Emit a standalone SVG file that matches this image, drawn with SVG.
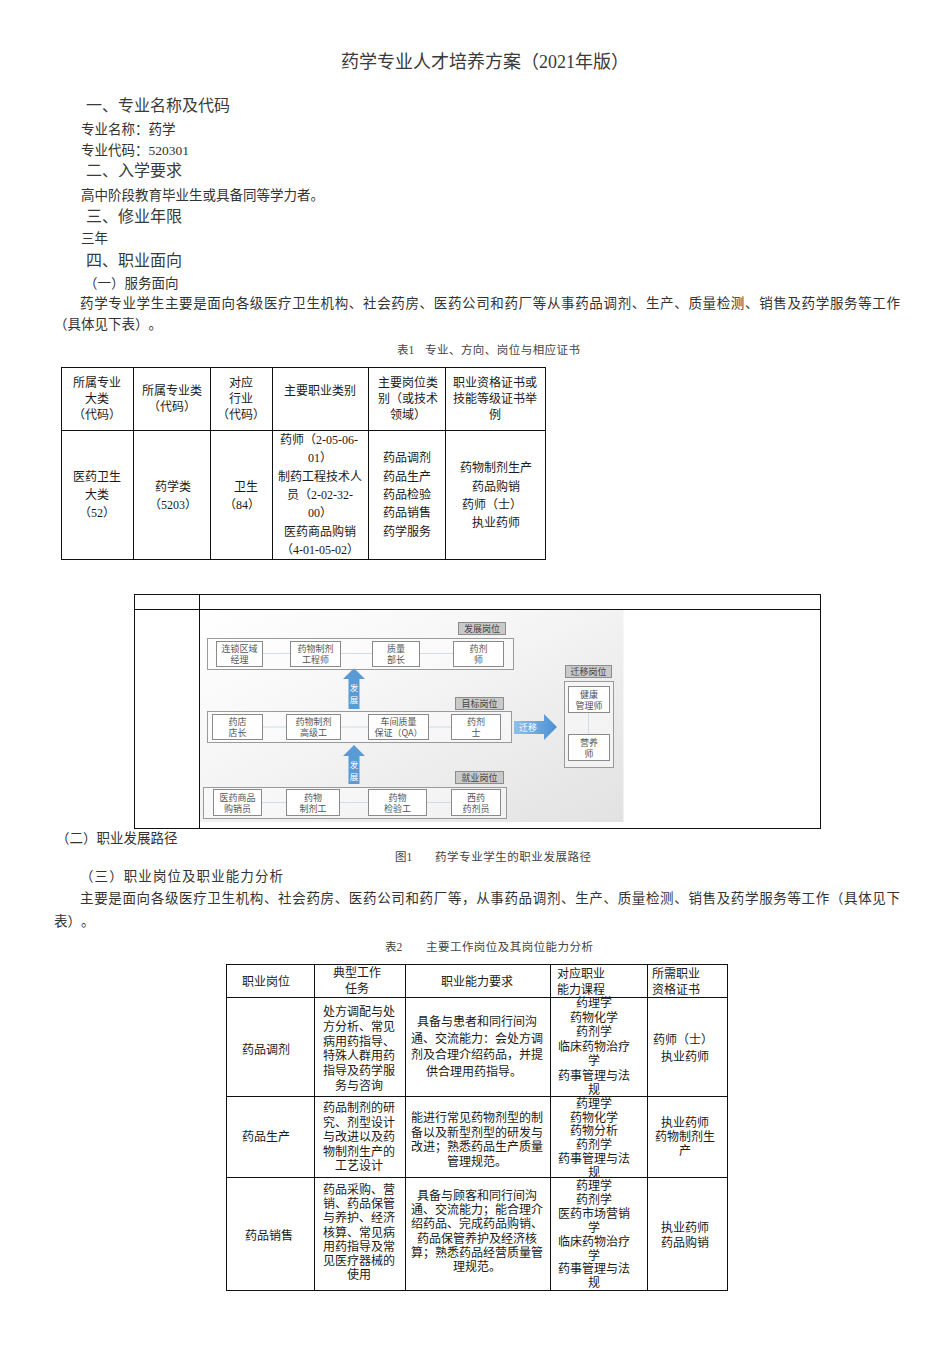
<svg xmlns="http://www.w3.org/2000/svg" width="951" height="1347" viewBox="0 0 951 1347">
<style>
.t{font-family:"Liberation Serif","Noto Sans CJK SC",serif;fill:#2a2a2a;dominant-baseline:central;text-spacing-trim:space-all}
.title{font-size:18px;fill:#3a3a3a}
.h{font-size:16px;fill:#3a3a3a}
.b{font-size:13.5px;fill:#333}
.cap{font-size:11.5px;fill:#444}
.tb{font-size:12px;fill:#1a1a1a}
.c{text-anchor:middle}
.ln{stroke:#111;stroke-width:1;fill:none;shape-rendering:crispEdges}
.f{font-family:"Noto Sans CJK SC","Liberation Sans",sans-serif;font-size:9px;fill:#555;dominant-baseline:central;text-anchor:middle;text-spacing-trim:space-all}
.fw{font-family:"Noto Sans CJK SC","Liberation Sans",sans-serif;font-size:8.5px;fill:#fff;dominant-baseline:central;text-anchor:middle}
.box{fill:#fff;stroke:#8a8a8a;stroke-width:1}
.cont{fill:#fff;fill-opacity:0.45;stroke:#9a9a9a;stroke-width:1}
.lab{fill:#c9c9c9;stroke:#8c8c8c;stroke-width:1}
.con{stroke:#aebfce;stroke-width:1;fill:none}
.arr{fill:#5b9bd5}
</style>
<defs>
<linearGradient id="bg" x1="0" y1="0" x2="1" y2="1">
<stop offset="0" stop-color="#ffffff"/>
<stop offset="0.35" stop-color="#f7f7f7"/>
<stop offset="1" stop-color="#e2e2e2"/>
</linearGradient>
<linearGradient id="ag" x1="0" y1="0" x2="1" y2="0">
<stop offset="0" stop-color="#8fc0ea"/>
<stop offset="1" stop-color="#4a8fd4"/>
</linearGradient>
</defs>
<rect width="951" height="1347" fill="#fff"/>

<g id="header-text">
<text class="t title c" x="485" y="62">药学专业人才培养方案（2021年版）</text>
<text class="t h" x="86" y="105">一、专业名称及代码</text>
<text class="t b" x="81" y="129">专业名称：药学</text>
<text class="t b" x="81" y="150">专业代码：520301</text>
<text class="t h" x="86" y="170">二、入学要求</text>
<text class="t b" x="81" y="195">高中阶段教育毕业生或具备同等学力者。</text>
<text class="t h" x="86" y="216">三、修业年限</text>
<text class="t b" x="81" y="238">三年</text>
<text class="t h" x="86" y="260">四、职业面向</text>
<text class="t b" x="84" y="283">（一）服务面向</text>
<text class="t b" x="80" y="303" textLength="820" lengthAdjust="spacing">药学专业学生主要是面向各级医疗卫生机构、社会药房、医药公司和药厂等从事药品调剂、生产、质量检测、销售及药学服务等工作</text>
<text class="t b" x="54" y="324">（具体见下表）。</text>
<text class="t cap" x="397" y="350">表1</text>
<text class="t cap" x="425" y="350" textLength="155" lengthAdjust="spacing">专业、方向、岗位与相应证书</text>
</g>

<g id="table1">
<rect class="ln" x="61.5" y="367.5" width="484" height="192"/>
<path class="ln" d="M61.5 430.5H545.5M133.5 367.5V559.5M210.5 367.5V559.5M272.5 367.5V559.5M368.5 367.5V559.5M445.5 367.5V559.5"/>
<text class="t tb c" x="97" y="383">所属专业</text>
<text class="t tb c" x="97" y="399">大类</text>
<text class="t tb c" x="97" y="415">（代码）</text>
<text class="t tb c" x="172" y="391">所属专业类</text>
<text class="t tb c" x="172" y="407">（代码）</text>
<text class="t tb c" x="241" y="383">对应</text>
<text class="t tb c" x="241" y="399">行业</text>
<text class="t tb c" x="241" y="415">（代码）</text>
<text class="t tb c" x="320" y="391">主要职业类别</text>
<text class="t tb c" x="408" y="383">主要岗位类</text>
<text class="t tb c" x="408" y="399">别（或技术</text>
<text class="t tb c" x="408" y="415">领域）</text>
<text class="t tb c" x="495" y="383">职业资格证书或</text>
<text class="t tb c" x="495" y="399">技能等级证书举</text>
<text class="t tb c" x="495" y="415">例</text>
<text class="t tb c" x="97" y="477">医药卫生</text>
<text class="t tb c" x="97" y="495">大类</text>
<text class="t tb c" x="97" y="513">（52）</text>
<text class="t tb c" x="173" y="487">药学类</text>
<text class="t tb c" x="173" y="505">（5203）</text>
<text class="t tb c" x="246" y="487">卫生</text>
<text class="t tb c" x="242" y="505">（84）</text>
<text class="t tb c" x="319" y="440">药师（2-05-06-</text>
<text class="t tb c" x="320" y="458">01）</text>
<text class="t tb c" x="320" y="477">制药工程技术人</text>
<text class="t tb c" x="320" y="495">员（2-02-32-</text>
<text class="t tb c" x="320" y="513">00）</text>
<text class="t tb c" x="320" y="532">医药商品购销</text>
<text class="t tb c" x="320" y="550">（4-01-05-02）</text>
<text class="t tb c" x="407" y="458">药品调剂</text>
<text class="t tb c" x="407" y="477">药品生产</text>
<text class="t tb c" x="407" y="495">药品检验</text>
<text class="t tb c" x="407" y="513">药品销售</text>
<text class="t tb c" x="407" y="532">药学服务</text>
<text class="t tb c" x="496" y="468">药物制剂生产</text>
<text class="t tb c" x="496" y="487">药品购销</text>
<text class="t tb c" x="492" y="505">药师（士）</text>
<text class="t tb c" x="496" y="523">执业药师</text>
</g>

<g id="figure-frame">
<rect x="199.5" y="610" width="424" height="212" fill="url(#bg)"/>
<rect class="ln" x="134.5" y="594.5" width="686" height="234"/>
<path class="ln" d="M134.5 609.5H820.5M199.5 594.5V828.5"/>
</g>

<g id="connectors">
<path class="con" d="M262 653.5H290M340 653.5H372M419 653.5H453"/>
<path class="con" d="M262 727H286M340 727H368M428 727H451"/>
<path class="con" d="M261 802.5H286M339 802.5H368M426 802.5H451"/>
<path class="con" d="M588.5 712V734"/>
<path id="arrow-up-1" class="arr" d="M354 668L365 679H359.5V709H348.5V679H343Z"/>
<path id="arrow-up-2" class="arr" d="M354 745L365 756H359.5V784H348.5V756H343Z"/>
<path id="arrow-right" fill="url(#ag)" d="M514 721H544V714L557 727L544 740V734H514Z"/>
<text class="fw" x="354" y="687">发</text>
<text class="fw" x="354" y="699">展</text>
<text class="fw" x="354" y="764">发</text>
<text class="fw" x="354" y="776">展</text>
<text class="fw" x="528" y="727.5" style="font-size:9px">迁移</text>
</g>

<g id="group-dev">
<rect class="cont" x="207.5" y="638.5" width="306" height="31"/>
<rect class="lab" x="458.5" y="622.5" width="47" height="12"/>
<text class="f" x="482" y="628.5" style="fill:#444">发展岗位</text>
</g>
<g id="n-lsqyjl"><rect class="box" x="216.5" y="641.5" width="46" height="25"/><text class="f" x="239.5" y="648.5">连锁区域</text><text class="f" x="239.5" y="659.5">经理</text></g>
<g id="n-ywzjgcs"><rect class="box" x="290.5" y="641.5" width="50" height="25"/><text class="f" x="315.5" y="648.5">药物制剂</text><text class="f" x="315.5" y="659.5">工程师</text></g>
<g id="n-zlbz"><rect class="box" x="372.5" y="641.5" width="47" height="25"/><text class="f" x="396" y="648.5">质量</text><text class="f" x="396" y="659.5">部长</text></g>
<g id="n-yjs"><rect class="box" x="453.5" y="641.5" width="50" height="25"/><text class="f" x="478.5" y="648.5">药剂</text><text class="f" x="478.5" y="659.5">师</text></g>

<g id="group-target">
<rect class="cont" x="207.5" y="711.5" width="304" height="31"/>
<rect class="lab" x="455.5" y="697.5" width="48" height="12"/>
<text class="f" x="479.5" y="703.5" style="fill:#444">目标岗位</text>
</g>
<g id="n-ydzz"><rect class="box" x="212.5" y="714.5" width="50" height="25"/><text class="f" x="237.5" y="721.5">药店</text><text class="f" x="237.5" y="732.5">店长</text></g>
<g id="n-ywzjgjg"><rect class="box" x="286.5" y="714.5" width="54" height="25"/><text class="f" x="313.5" y="721.5">药物制剂</text><text class="f" x="313.5" y="732.5">高级工</text></g>
<g id="n-cjzl"><rect class="box" x="368.5" y="714.5" width="60" height="25"/><text class="f" x="398.5" y="721.5">车间质量</text><text class="f" x="398.5" y="732.5">保证（QA）</text></g>
<g id="n-yjshi"><rect class="box" x="451.5" y="714.5" width="49" height="25"/><text class="f" x="476" y="721.5">药剂</text><text class="f" x="476" y="732.5">士</text></g>

<g id="group-job">
<rect class="cont" x="203.5" y="787.5" width="303" height="31"/>
<rect class="lab" x="455.5" y="771.5" width="48" height="12"/>
<text class="f" x="479.5" y="777.5" style="fill:#444">就业岗位</text>
</g>
<g id="n-yysp"><rect class="box" x="213.5" y="789.5" width="48" height="26"/><text class="f" x="237.5" y="797">医药商品</text><text class="f" x="237.5" y="808">购销员</text></g>
<g id="n-ywzjg"><rect class="box" x="286.5" y="789.5" width="53" height="26"/><text class="f" x="313" y="797">药物</text><text class="f" x="313" y="808">制剂工</text></g>
<g id="n-ywjyg"><rect class="box" x="368.5" y="789.5" width="58" height="26"/><text class="f" x="397.5" y="797">药物</text><text class="f" x="397.5" y="808">检验工</text></g>
<g id="n-xyyjy"><rect class="box" x="451.5" y="789.5" width="49" height="26"/><text class="f" x="476" y="797">西药</text><text class="f" x="476" y="808">药剂员</text></g>

<g id="group-transfer">
<rect class="lab" x="565.5" y="665.5" width="46" height="12"/>
<text class="f" x="588.5" y="671.5" style="fill:#444">迁移岗位</text>
<rect class="cont" x="564.5" y="681.5" width="49" height="86"/>
</g>
<g id="n-jkglsh"><rect class="box" x="568.5" y="686.5" width="41" height="26"/><text class="f" x="589" y="694">健康</text><text class="f" x="589" y="705">管理师</text></g>
<g id="n-yys"><rect class="box" x="568.5" y="734.5" width="41" height="26"/><text class="f" x="589" y="742">营养</text><text class="f" x="589" y="753">师</text></g>

<g id="mid-text">
<text class="t b" x="56" y="838">（二）职业发展路径</text>
<text class="t cap" x="395" y="857">图1</text>
<text class="t cap" x="435" y="857" textLength="156" lengthAdjust="spacing">药学专业学生的职业发展路径</text>
<text class="t b" x="80" y="876" textLength="203" lengthAdjust="spacing">（三）职业岗位及职业能力分析</text>
<text class="t b" x="80" y="898" textLength="820" lengthAdjust="spacing">主要是面向各级医疗卫生机构、社会药房、医药公司和药厂等，从事药品调剂、生产、质量检测、销售及药学服务等工作（具体见下</text>
<text class="t b" x="54" y="921">表）。</text>
<text class="t cap" x="385" y="947">表2</text>
<text class="t cap" x="426" y="947" textLength="167" lengthAdjust="spacing">主要工作岗位及其岗位能力分析</text>
</g>

<g id="table2">
<rect class="ln" x="226.5" y="964.5" width="501" height="326"/>
<path class="ln" d="M226.5 997.5H727.5M226.5 1096.5H727.5M226.5 1177.5H727.5M314.5 964.5V1290.5M405.5 964.5V1290.5M550.5 964.5V1290.5M647.5 964.5V1290.5"/>
<text class="t tb c" x="266" y="982">职业岗位</text>
<text class="t tb c" x="357" y="973">典型工作</text>
<text class="t tb c" x="357" y="988.5">任务</text>
<text class="t tb c" x="477" y="982">职业能力要求</text>
<text class="t tb" x="557" y="974">对应职业</text>
<text class="t tb" x="557" y="989.5">能力课程</text>
<text class="t tb" x="652" y="974">所需职业</text>
<text class="t tb" x="652" y="989.5">资格证书</text>

<text class="t tb c" x="266" y="1050">药品调剂</text>
<text class="t tb c" x="359" y="1012">处方调配与处</text>
<text class="t tb c" x="359" y="1026.8">方分析、常见</text>
<text class="t tb c" x="359" y="1041.6">病用药指导、</text>
<text class="t tb c" x="359" y="1056.4">特殊人群用药</text>
<text class="t tb c" x="359" y="1071.2">指导及药学服</text>
<text class="t tb c" x="359" y="1086">务与咨询</text>
<text class="t tb c" x="477" y="1022">具备与患者和同行间沟</text>
<text class="t tb c" x="477" y="1038.5">通、交流能力：会处方调</text>
<text class="t tb c" x="477" y="1055">剂及合理介绍药品，并提</text>
<text class="t tb c" x="474" y="1071.5">供合理用药指导。</text>
<text class="t tb c" x="594" y="1003">药理学</text>
<text class="t tb c" x="594" y="1017.5">药物化学</text>
<text class="t tb c" x="594" y="1032">药剂学</text>
<text class="t tb c" x="594" y="1046.5">临床药物治疗</text>
<text class="t tb c" x="594" y="1061">学</text>
<text class="t tb c" x="594" y="1075.5">药事管理与法</text>
<text class="t tb c" x="594" y="1090">规</text>
<text class="t tb c" x="683" y="1040">药师（士）</text>
<text class="t tb c" x="685" y="1056.5">执业药师</text>

<text class="t tb c" x="266" y="1137">药品生产</text>
<text class="t tb c" x="359" y="1108">药品制剂的研</text>
<text class="t tb c" x="359" y="1122.5">究、剂型设计</text>
<text class="t tb c" x="359" y="1137">与改进以及药</text>
<text class="t tb c" x="359" y="1151.5">物制剂生产的</text>
<text class="t tb c" x="359" y="1166">工艺设计</text>
<text class="t tb c" x="477" y="1118">能进行常见药物剂型的制</text>
<text class="t tb c" x="477" y="1132.5">备以及新型剂型的研发与</text>
<text class="t tb c" x="477" y="1147">改进；熟悉药品生产质量</text>
<text class="t tb c" x="477" y="1161.5">管理规范。</text>
<text class="t tb c" x="594" y="1104">药理学</text>
<text class="t tb c" x="594" y="1117.7">药物化学</text>
<text class="t tb c" x="594" y="1131.4">药物分析</text>
<text class="t tb c" x="594" y="1145.1">药剂学</text>
<text class="t tb c" x="594" y="1158.8">药事管理与法</text>
<text class="t tb c" x="594" y="1172.5">规</text>
<text class="t tb c" x="685" y="1123">执业药师</text>
<text class="t tb c" x="685" y="1137">药物制剂生</text>
<text class="t tb c" x="685" y="1151">产</text>

<text class="t tb c" x="269" y="1236">药品销售</text>
<text class="t tb c" x="359" y="1190">药品采购、营</text>
<text class="t tb c" x="359" y="1204.2">销、药品保管</text>
<text class="t tb c" x="359" y="1218.4">与养护、经济</text>
<text class="t tb c" x="359" y="1232.6">核算、常见病</text>
<text class="t tb c" x="359" y="1246.8">用药指导及常</text>
<text class="t tb c" x="359" y="1261">见医疗器械的</text>
<text class="t tb c" x="359" y="1275.2">使用</text>
<text class="t tb c" x="477" y="1196">具备与顾客和同行间沟</text>
<text class="t tb c" x="477" y="1210.2">通、交流能力；能合理介</text>
<text class="t tb c" x="477" y="1224.4">绍药品、完成药品购销、</text>
<text class="t tb c" x="477" y="1238.6">药品保管养护及经济核</text>
<text class="t tb c" x="477" y="1252.8">算；熟悉药品经营质量管</text>
<text class="t tb c" x="477" y="1267">理规范。</text>
<text class="t tb c" x="594" y="1186">药理学</text>
<text class="t tb c" x="594" y="1199.9">药剂学</text>
<text class="t tb c" x="594" y="1213.8">医药市场营销</text>
<text class="t tb c" x="594" y="1227.7">学</text>
<text class="t tb c" x="594" y="1241.6">临床药物治疗</text>
<text class="t tb c" x="594" y="1255.5">学</text>
<text class="t tb c" x="594" y="1269.4">药事管理与法</text>
<text class="t tb c" x="594" y="1283.3">规</text>
<text class="t tb c" x="685" y="1228">执业药师</text>
<text class="t tb c" x="685" y="1243">药品购销</text>
</g>
</svg>
